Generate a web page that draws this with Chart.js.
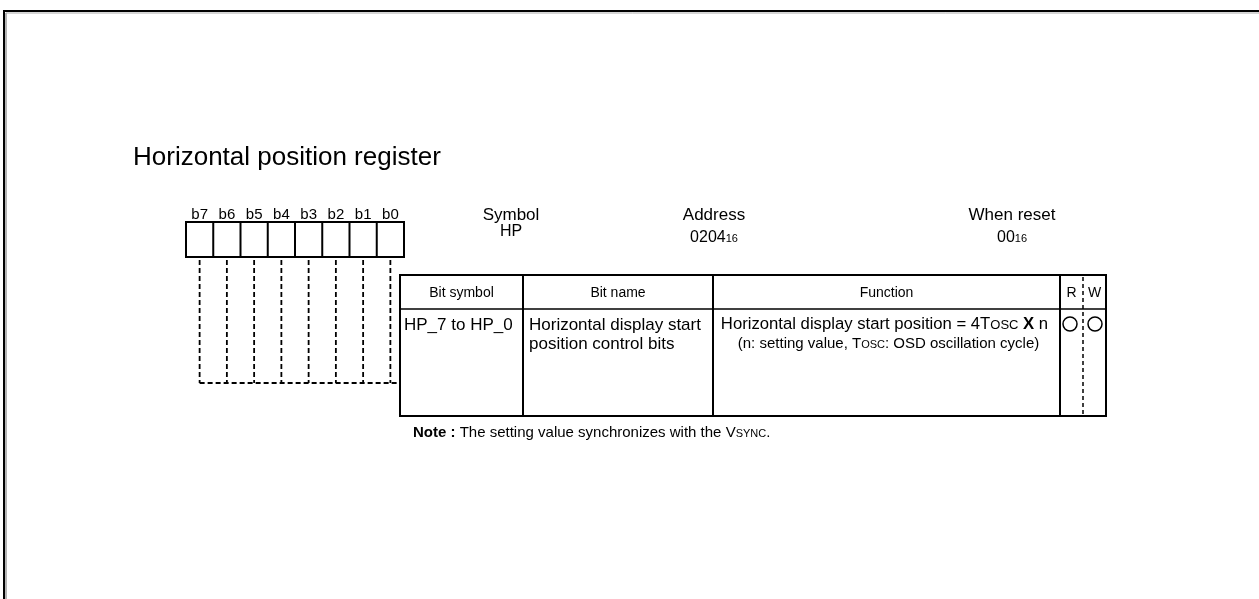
<!DOCTYPE html>
<html>
<head>
<meta charset="utf-8">
<script src="https://cdn.jsdelivr.net/npm/chart.js@4"></script>
<style>
  html, body { margin: 0; padding: 0; background: #fff; }
  canvas { display: block; }
</style>
</head>
<body>
<canvas id="reg" width="1259" height="599"></canvas>
<script>
'use strict';

// ── register data ──────────────────────────────
const title = 'Horizontal position register';
const bitLabels = ['b7', 'b6', 'b5', 'b4', 'b3', 'b2', 'b1', 'b0'];
const infoLabels = ['Symbol', 'Address', 'When reset'];
const infoValues = [['HP', ''], ['0204', '16'], ['00', '16']];
const columnHeaders = ['Bit symbol', 'Bit name', 'Function', 'R', 'W'];
const bitSymbol = 'HP_7 to HP_0';
const bitNameLines = ['Horizontal display start', 'position control bits'];
// segments: [text, style]  n = normal, c = small caps, b = bold
const functionLine1 = [['Horizontal display start position = 4T', 'n'], ['osc', 'c'], [' ', 'n'], ['X', 'b'], [' n', 'n']];
const functionLine2 = [['(n: setting value, T', 'n'], ['osc', 'c'], [': OSD oscillation cycle)', 'n']];
const access = [true, true]; // R, W
const noteLine = [['Note :', 'b'], [' The setting value synchronizes with the V', 'n'], ['sync', 'c'], ['.', 'n']];

// ── layout (pixels of the 1259x599 page) ───────────
const FONT = '"Liberation Sans", Arial, Helvetica, sans-serif';
const G = {
  frameX: 4, frameY: 11,
  titleX: 133, titleY: 165,
  boxL: 186, boxR: 404, boxT: 222, boxB: 257, labelY: 219,
  dashTop: 260, dashBottom: 383,
  tblL: 400, tblT: 275, tblH: 309, tblB: 416,
  cols: [400, 523, 713, 1060, 1083, 1106],
  infoX: [511, 714, 1012], infoY1: 220, infoY2: [236, 242, 242],
  headY: 293,
  row1: 330, row2: 349,
  circleY: 324, circleX: [1070, 1095],
  noteX: 413, noteY: 437
};
const cellW = (G.boxR - G.boxL) / bitLabels.length;
const bitCenter = i => G.boxL + (i + 0.5) * cellW;

function seg(x1, y1, x2, y2, width, dash) {
  return {
    type: 'line',
    data: [{ x: x1, y: y1 }, { x: x2, y: y2 }],
    borderColor: '#000',
    borderWidth: width || 2,
    borderDash: dash || [],
    pointRadius: 0,
    fill: false,
    tension: 0
  };
}

const datasets = [];
// page frame
datasets.push(seg(G.frameX - 1, G.frameY, 1259, G.frameY, 2));
datasets.push(seg(G.frameX, G.frameY - 1, G.frameX, 599, 2));
datasets.push(Object.assign(seg(G.frameX + 2, G.frameY + 2, 1259, G.frameY + 2, 1), { borderColor: '#aaa' }));
datasets.push(Object.assign(seg(G.frameX + 2, G.frameY + 2, G.frameX + 2, 599, 1), { borderColor: '#aaa' }));

// bit box
datasets.push(seg(G.boxL - 1, G.boxT, G.boxR + 1, G.boxT));
datasets.push(seg(G.boxL - 1, G.boxB, G.boxR + 1, G.boxB));
for (let i = 0; i <= bitLabels.length; i++) {
  const x = G.boxL + i * cellW;
  datasets.push(seg(x, G.boxT, x, G.boxB));
}
// dashed leaders from every bit to the table
bitLabels.forEach((_, i) => {
  datasets.push(seg(bitCenter(i), G.dashTop, bitCenter(i), G.dashBottom, 1.8, [5, 3]));
});
datasets.push(seg(bitCenter(0), G.dashBottom, G.tblL, G.dashBottom, 1.8, [5, 3]));

// table
const tblR = G.cols[G.cols.length - 1];
datasets.push(seg(G.tblL - 1, G.tblT, tblR + 1, G.tblT));
datasets.push(seg(G.tblL, G.tblH, tblR, G.tblH, 1.5));
datasets.push(seg(G.tblL - 1, G.tblB, tblR + 1, G.tblB));
G.cols.forEach((x, i) => {
  if (i === 4) datasets.push(seg(x, G.tblT + 2, x, G.tblB, 1.5, [4, 3]));
  else datasets.push(seg(x, G.tblT, x, G.tblB));
});

// access marks
datasets.push({
  type: 'scatter',
  data: access.map((a, i) => a ? { x: G.circleX[i], y: G.circleY } : null).filter(Boolean),
  pointStyle: 'circle',
  pointRadius: 7,
  borderWidth: 1.5,
  borderColor: '#000',
  backgroundColor: '#fff'
});

function segFont(style, size) {
  if (style === 'b') return 'bold ' + size + 'px ' + FONT;
  if (style === 'c') return Math.round(size * 0.75) + 'px ' + FONT;
  return size + 'px ' + FONT;
}

function drawRich(ctx, segs, x, y, size, align) {
  const parts = segs.map(([t, s]) => {
    const txt = s === 'c' ? t.toUpperCase() : t;
    ctx.font = segFont(s, size);
    return { txt, font: ctx.font, w: ctx.measureText(txt).width };
  });
  const total = parts.reduce((a, p) => a + p.w, 0);
  let cx = align === 'center' ? x - total / 2 : x;
  ctx.textAlign = 'left';
  parts.forEach(p => {
    ctx.font = p.font;
    ctx.fillText(p.txt, cx, y);
    cx += p.w;
  });
}

const textPlugin = {
  id: 'registerText',
  afterDatasetsDraw(chart) {
    const ctx = chart.ctx;
    const sx = v => chart.scales.x.getPixelForValue(v);
    const sy = v => chart.scales.y.getPixelForValue(v);
    ctx.save();
    ctx.fillStyle = '#000';
    ctx.textBaseline = 'alphabetic';

    ctx.font = '26px ' + FONT;
    ctx.textAlign = 'left';
    ctx.fillText(title, sx(G.titleX), sy(G.titleY));

    ctx.font = '15px ' + FONT;
    ctx.textAlign = 'center';
    bitLabels.forEach((b, i) => ctx.fillText(b, sx(bitCenter(i)), sy(G.labelY)));

    infoLabels.forEach((l, i) => {
      ctx.font = '17px ' + FONT;
      ctx.textAlign = 'center';
      ctx.fillText(l, sx(G.infoX[i]), sy(G.infoY1));
      const [main, sub] = infoValues[i];
      ctx.font = '16px ' + FONT;
      const wm = ctx.measureText(main).width;
      ctx.font = '11px ' + FONT;
      const ws = ctx.measureText(sub).width;
      const left = sx(G.infoX[i]) - (wm + ws) / 2;
      ctx.textAlign = 'left';
      ctx.font = '16px ' + FONT;
      ctx.fillText(main, left, sy(G.infoY2[i]));
      ctx.font = '11px ' + FONT;
      ctx.fillText(sub, left + wm, sy(G.infoY2[i]));
    });

    ctx.font = '14px ' + FONT;
    ctx.textAlign = 'center';
    ctx.textBaseline = 'middle';
    columnHeaders.forEach((h, i) => {
      const a = G.cols[i], b = G.cols[i + 1];
      ctx.fillText(h, sx((a + b) / 2), sy(G.headY));
    });

    ctx.textBaseline = 'alphabetic';
    ctx.textAlign = 'left';
    ctx.font = '17px ' + FONT;
    ctx.fillText(bitSymbol, sx(G.cols[0] + 4), sy(G.row1));
    bitNameLines.forEach((l, i) => ctx.fillText(l, sx(G.cols[1] + 6), sy(i ? G.row2 : G.row1)));

    const fc = (G.cols[2] + G.cols[3]) / 2;
    drawRich(ctx, functionLine1, sx(fc - 2), sy(G.row1 - 1), 16.7, 'center');
    drawRich(ctx, functionLine2, sx(fc + 2), sy(G.row2 - 1), 15, 'center');

    drawRich(ctx, noteLine, sx(G.noteX), sy(G.noteY), 15, 'left');
    ctx.restore();
  }
};

new Chart(document.getElementById('reg'), {
  type: 'scatter',
  data: { datasets },
  options: {
    responsive: false,
    animation: false,
    events: [],
    layout: { padding: 0, autoPadding: false },
    scales: {
      x: { type: 'linear', min: 0, max: 1259, display: false },
      y: { type: 'linear', min: 0, max: 599, reverse: true, display: false }
    },
    plugins: { legend: { display: false }, tooltip: { enabled: false } }
  },
  plugins: [textPlugin]
});
</script>
</body>
</html>
